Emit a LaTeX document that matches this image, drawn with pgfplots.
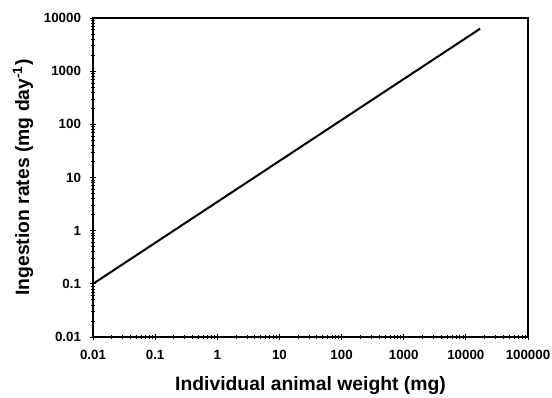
\documentclass[border=0pt]{standalone}
\usepackage{fontspec}
\setmainfont{Liberation Sans}
\usepackage{pgfplots}
\pgfplotsset{compat=1.18}
\begin{document}
\begin{tikzpicture}
\begin{axis}[
  scale only axis,
  width=326.25pt, height=239.25pt,
  xmode=log, ymode=log,
  xmin=0.01, xmax=100000, ymin=0.01, ymax=10000,
  axis line style={line width=0.9pt},
  tick style={black, line width=0.6pt},
  tick pos=left,
  tick align=center,
  major tick length=5pt,
  minor tick length=2.5pt,
  xtick={0.01,0.1,1,10,100,1000,10000,100000},
  xticklabels={0.01,0.1,1,10,100,1000,10000,100000},
  ytick={0.01,0.1,1,10,100,1000,10000},
  yticklabels={0.01,0.1,1,10,100,1000,10000},
  ticklabel style={font=\fontsize{10}{12}\selectfont\bfseries},
  xticklabel style={yshift=-4pt},
  yticklabel style={xshift=-3pt},
  xlabel={Individual animal weight (mg)},
  ylabel={Ingestion rates (mg day\textsuperscript{-1})},
  label style={font=\fontsize{14.5}{17}\selectfont\bfseries},
  xlabel style={at={(axis description cs:0.5,-0.152)}, anchor=center},
  ylabel style={at={(axis description cs:-0.161,0.5)}, anchor=center, rotate=0},
]
\addplot[black, line width=1.5pt] coordinates {(0.01,0.1) (17000,6300)};
\end{axis}
\pgfresetboundingbox
\path[use as bounding box] ([xshift=-69.75pt,yshift=-45.75pt]current axis.south west) rectangle ([xshift=18pt,yshift=13.5pt]current axis.north east);
\end{tikzpicture}
\end{document}
